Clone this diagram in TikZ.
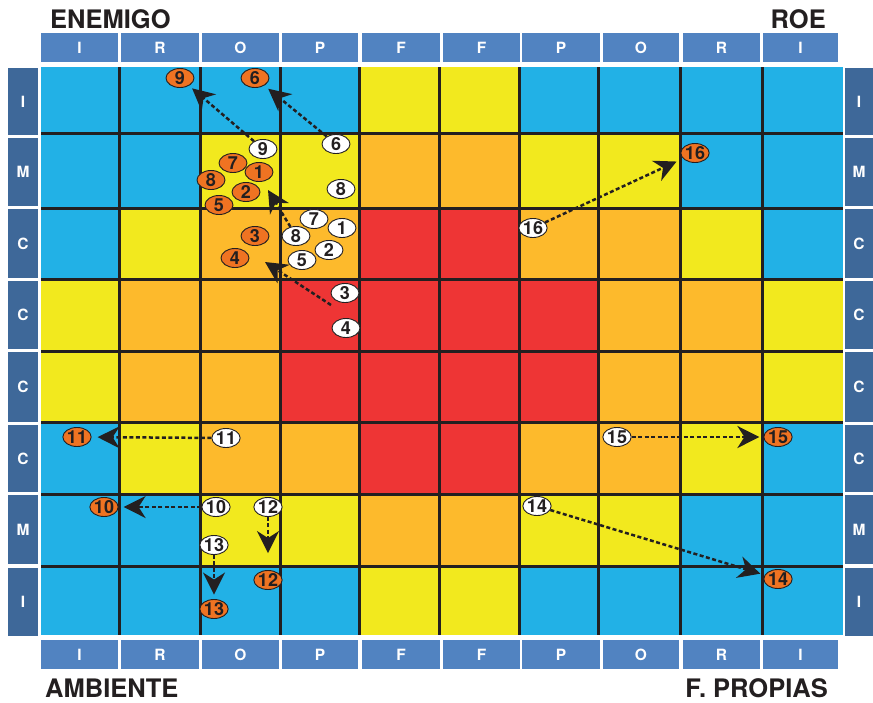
\documentclass[tikz,border=0pt]{standalone}
\usepackage{fontspec}
\setmainfont{TeX Gyre Heros}
\usetikzlibrary{arrows.meta,shapes.geometric}
\definecolor{skyb}{HTML}{22B1E6}
\definecolor{cyel}{HTML}{F2E91E}
\definecolor{corg}{HTML}{FDBA2C}
\definecolor{cred}{HTML}{EE3535}
\definecolor{hdrb}{HTML}{5183C1}
\definecolor{rowb}{HTML}{3E6899}
\definecolor{onum}{HTML}{EF7322}
\definecolor{ink}{HTML}{231F20}
\begin{document}
\begin{tikzpicture}[x=1pt,y=-1pt,
  hdrcell/.style={fill=hdrb, text=white, font=\fontsize{15.5}{15.5}\selectfont\bfseries, inner sep=0pt, outer sep=0pt, minimum height=29pt},
  rowcell/.style={fill=rowb, text=white, font=\fontsize{15.5}{15.5}\selectfont\bfseries, inner sep=0pt, outer sep=0pt},
  numw/.style={ellipse, draw=ink, line width=0.9pt, fill=white, minimum width=28pt, minimum height=19pt, inner sep=0pt, font=\fontsize{18}{18}\selectfont\bfseries, text=ink},
  numo/.style={numw, fill=onum},
  mv/.style={draw=ink, line width=2.5pt, dash pattern=on 4pt off 2.5pt, -{Stealth[length=22pt,width=22pt,inset=7pt]}},
  gridln/.style={draw=ink, line width=3pt},
  ttl/.style={font=\fontsize{25.5}{25.5}\selectfont\bfseries, text=ink, inner sep=0pt}
]
\useasboundingbox[fill=white] (0,0) rectangle (873,702);
% cells
\fill[skyb] (41,67) rectangle (843,635);
\fill[cyel] (359.5,67) rectangle (519,133);
\fill[cyel] (200,133) rectangle (680.5,208);
\fill[cyel] (119.5,208) rectangle (762,279);
\fill[cyel] (41,279) rectangle (843,422);
\fill[cyel] (119.5,422) rectangle (762,494);
\fill[cyel] (200,494) rectangle (680.5,566);
\fill[cyel] (359.5,566) rectangle (519,635);
\fill[corg] (359.5,133) rectangle (519,208);
\fill[corg] (200,208) rectangle (680.5,279);
\fill[corg] (119.5,279) rectangle (762,422);
\fill[corg] (200,422) rectangle (680.5,494);
\fill[corg] (359.5,494) rectangle (519,566);
\fill[cred] (359.5,208) rectangle (519,279);
\fill[cred] (280,279) rectangle (598.5,422);
\fill[cred] (359.5,422) rectangle (519,494);
% grid lines
\foreach \x in {119.5,200,280,359.5,439.5,519,598.5,680.5,762}
  \draw[gridln] (\x,67) -- (\x,635);
\foreach \y in {133,208,279,351,422,494,566}
  \draw[gridln] (41,\y) -- (843,\y);
% column headers
\foreach \xa/\xb/\t [count=\i] in {41/118/I,121/199/R,202/279/O,282/358/P,362/440/F,443/520/F,522/600/P,603/679/O,683/760/R,763/838/I}{
  \node[hdrcell, minimum width={\xb-\xa}] (top\i) at ({(\xa+\xb)/2},47.5) {\t};
  \node[hdrcell, minimum width={\xb-\xa}] (bot\i) at ({(\xa+\xb)/2},654.5) {\t};
}
% row labels
\foreach \ya/\yb/\t [count=\i] in {68/135/I,138/206/M,209/278/C,281/349/C,352/422/C,425/492/C,495/564/M,568/636/I}{
  \node[rowcell, minimum width=30pt, minimum height={\yb-\ya}] (lft\i) at (23,{(\ya+\yb)/2}) {\t};
  \node[rowcell, minimum width=28pt, minimum height={\yb-\ya}] (rgt\i) at (859,{(\ya+\yb)/2}) {\t};
}
% titles
\node[ttl, anchor=base west] (enemigo) at (50,28) {ENEMIGO};
\node[ttl, anchor=base east] (roe) at (826,28) {ROE};
\node[ttl, anchor=base west] (ambiente) at (45,697) {AMBIENTE};
\node[ttl, anchor=base east] (fpropias) at (828,697) {F. PROPIAS};
% orange numbers
\node[numo] (o9) at (180,78) {9};
\node[numo] (o6) at (255,78) {6};
\node[numo] (o7) at (233,163) {7};
\node[numo] (o1) at (259,172) {1};
\node[numo] (o8) at (211,180) {8};
\node[numo] (o2) at (246,192) {2};
\node[numo] (o5) at (219,205) {5};
\node[numo] (o3) at (255,236) {3};
\node[numo] (o4) at (235,258) {4};
\node[numo] (o16) at (695,153) {16};
\node[numo] (o11) at (77,437) {11};
\node[numo] (o10) at (104,507) {10};
\node[numo] (o12) at (268,580) {12};
\node[numo] (o13) at (214,609) {13};
\node[numo] (o15) at (778,437) {15};
\node[numo] (o14) at (778,579) {14};
% white numbers
\node[numw] (w9) at (263,149) {9};
\node[numw] (w6) at (336,144) {6};
\node[numw] (w8) at (341,189) {8};
\node[numw] (w7) at (314,219) {7};
\node[numw] (w1) at (342,228) {1};
\node[numw] (w8b) at (296,236) {8};
\node[numw] (w2) at (329,250) {2};
\node[numw] (w5) at (302,260) {5};
\node[numw] (w3) at (345,293) {3};
\node[numw] (w4) at (346,328) {4};
\node[numw] (w16) at (533,228) {16};
\node[numw] (w11) at (226,438) {11};
\node[numw] (w10) at (216,507) {10};
\node[numw] (w12) at (268,507) {12};
\node[numw] (w13) at (214,545) {13};
\node[numw] (w15) at (617,437) {15};
\node[numw] (w14) at (537,506) {14};
% moves
\coordinate (tipA) at (268,190);
\coordinate (startB) at (331,305);
\coordinate (tipB) at (265,262);
\draw[mv, shorten >=4pt] (w9) -- (o9);
\draw[mv, shorten >=5pt] (w6) -- (o6);
\draw[mv] (w8b) -- (tipA);
\draw[mv] (startB) -- (tipB);
\draw[mv, shorten >=7pt] (w16) -- (o16);
\draw[mv, shorten >=6pt] (w11) -- (o11);
\draw[mv, shorten >=5pt] (w10) -- (o10);
\draw[mv, shorten >=17pt] (w12) -- (o12);
\draw[mv, shorten >=4.5pt] (w13) -- (o13);
\draw[mv, shorten >=4pt] (w15) -- (o15);
\draw[mv, shorten >=4.5pt] (w14) -- (o14);
\end{tikzpicture}
\end{document}
